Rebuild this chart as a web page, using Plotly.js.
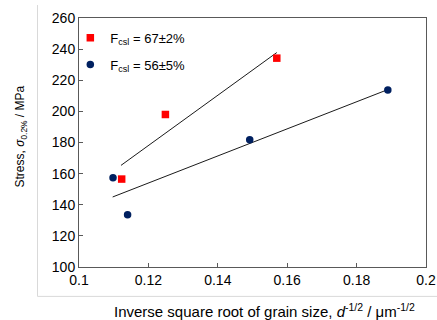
<!DOCTYPE html>
<html>
<head>
<meta charset="utf-8">
<script src="https://cdn.plot.ly/plotly-3.0.1.min.js"></script>
<style>
html,body{margin:0;padding:0;background:#fff;}
#chart{width:437px;height:320px;}
</style>
</head>
<body>
<div id="chart"></div>
<script>
// Data
const redX = [0.1123, 0.1249, 0.1570];
const redY = [156.5, 198.0, 234.2];
const navyX = [0.1098, 0.1140, 0.1492, 0.1890];
const navyY = [157.4, 133.5, 181.7, 213.7];
// Linear trend line endpoints
const redFitX = [0.1121, 0.1570];
const redFitY = [165.3, 237.8];
const navyFitX = [0.1097, 0.1890];
const navyFitY = [145.0, 214.0];
const seriesNames = ['F<sub>csl</sub> = 67±2%', 'F<sub>csl</sub> = 56±5%'];
const xTicks = [0.1, 0.12, 0.14, 0.16, 0.18, 0.2];
const xTickText = ['0.1', '0.12', '0.14', '0.16', '0.18', '0.2'];
const yTicks = [100, 120, 140, 160, 180, 200, 220, 240, 260];

const font = 'Liberation Sans, Arial, sans-serif';
const axisCol = '#595959';

const traces = [
  {x: redFitX, y: redFitY, mode: 'lines', line: {color: '#000', width: 0.9}, showlegend: false, hoverinfo: 'skip'},
  {x: navyFitX, y: navyFitY, mode: 'lines', line: {color: '#000', width: 0.9}, showlegend: false, hoverinfo: 'skip'},
  {x: redX, y: redY, mode: 'markers', name: seriesNames[0], legendgroup: 'a',
   marker: {symbol: 'square', size: 7.5, color: '#FF0000'}},
  {x: navyX, y: navyY, mode: 'markers', name: seriesNames[1], legendgroup: 'b',
   marker: {symbol: 'circle', size: 7.5, color: '#002060'}}
];

const layout = {
  width: 437, height: 320,
  margin: {l: 79, r: 11, t: 18, b: 53},
  paper_bgcolor: '#fff', plot_bgcolor: '#fff',
  font: {family: font, size: 13, color: '#000'},
  showlegend: true,
  legend: {x: -0.025, y: 0.981, xanchor: 'left', yanchor: 'top', bgcolor: 'rgba(0,0,0,0)',
           font: {family: font, size: 13, color: '#000'}, tracegroupgap: 7, itemwidth: 30},
  xaxis: {range: [0.1, 0.2], tickvals: xTicks, ticktext: xTickText, ticks: 'inside', ticklen: 4,
          tickcolor: axisCol, linecolor: axisCol, linewidth: 1, mirror: true, showgrid: false,
          zeroline: false, tickfont: {family: font, size: 14}, showline: true},
  yaxis: {range: [100, 260], tickvals: yTicks, ticks: 'inside', ticklen: 4,
          tickcolor: axisCol, linecolor: axisCol, linewidth: 1, mirror: true, showgrid: false,
          zeroline: false, tickfont: {family: font, size: 14}, showline: true},
  annotations: [
    {xref: 'paper', yref: 'paper', x: (264 - 79) / 347, y: -(312 - 268) / 250, xanchor: 'center', yanchor: 'middle',
     showarrow: false, text: 'Inverse square root of grain size, <i>d</i><sup>-1/2</sup> / μm<sup>-1/2</sup>',
     font: {family: font, size: 15}},
    {xref: 'paper', yref: 'paper', x: (21 - 79) / 347, y: (268 - 137) / 250, xanchor: 'center', yanchor: 'middle',
     showarrow: false, textangle: -90, text: 'Stress, <i>σ</i><sub>0.2%</sub> / MPa',
     font: {family: font, size: 12}}
  ],
  shapes: [
    {type: 'line', xref: 'paper', yref: 'paper', x0: (37.5 - 79) / 347, x1: (37.5 - 79) / 347,
     y0: (268 - 5) / 250, y1: (268 - 297.5) / 250, line: {color: '#d9d9d9', width: 1}},
    {type: 'line', xref: 'paper', yref: 'paper', x0: (37.5 - 79) / 347, x1: (437 - 79) / 347,
     y0: (268 - 297.5) / 250, y1: (268 - 297.5) / 250, line: {color: '#d9d9d9', width: 1}}
  ]
};

Plotly.newPlot('chart', traces, layout, {displayModeBar: false, staticPlot: true});
</script>
</body>
</html>
